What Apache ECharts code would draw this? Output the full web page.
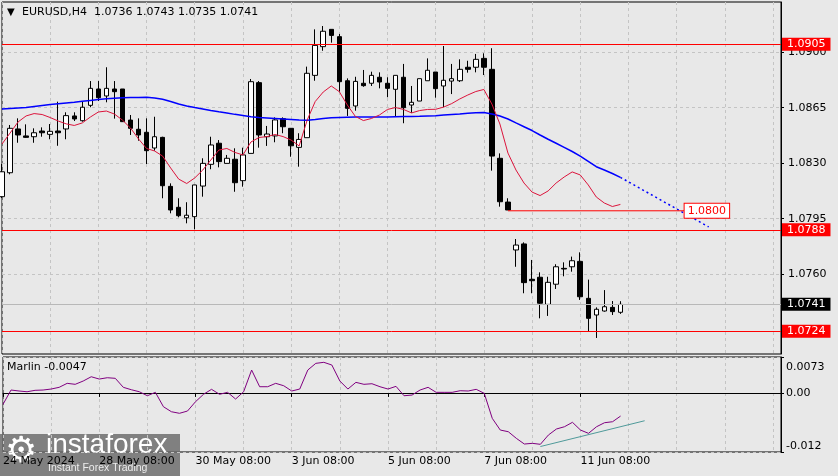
<!DOCTYPE html>
<html><head><meta charset="utf-8">
<script src="https://cdn.jsdelivr.net/npm/echarts@6/dist/echarts.min.js"></script>
<style>html,body{margin:0;padding:0;background:#e8e8e8;}#c{width:838px;height:476px;}</style>
</head><body><div id="c"></div>
<script>
// ---- data ----
const symbol = 'EURUSD,H4';
const tickLabels = ['24 May 2024','28 May 08:00','30 May 08:00','3 Jun 08:00','5 Jun 08:00','7 Jun 08:00','11 Jun 08:00'];
const slotCount = 98; // bar slots shown (incl. empty future space)
const priceTicks = [1.0760, 1.0795, 1.0830, 1.0865, 1.0900];
const marlinTicks = [-0.012, 0, 0.0073];

const open  = [1.08089,1.08240,1.08516,1.08472,1.08467,1.08503,1.08482,1.08503,1.08516,1.08598,1.08568,1.08665,1.08768,1.08724,1.08768,1.08768,1.08572,1.08514,1.08495,1.08396,1.08463,1.08154,1.08022,1.07956,1.07963,1.08156,1.08293,1.08426,1.08299,1.08325,1.08190,1.08362,1.08808,1.08467,1.08472,1.08581,1.08520,1.08400,1.08461,1.08854,1.09035,1.09144,1.09098,1.08820,1.08661,1.08804,1.08804,1.08842,1.08804,1.08766,1.08842,1.08667,1.08692,1.08820,1.08875,1.08787,1.08818,1.08820,1.08905,1.08905,1.08961,1.08892,1.08331,1.08055,1.07753,1.07791,1.07568,1.07581,1.07410,1.07537,1.07637,1.07647,1.07681,1.07448,1.07343,1.07368,1.07391,1.0736];
const high  = [1.08295,1.08541,1.08583,1.08545,1.08520,1.08526,1.08547,1.08688,1.08621,1.08621,1.08688,1.08818,1.08818,1.08905,1.08818,1.08768,1.08604,1.08583,1.08583,1.08593,1.08467,1.08173,1.08079,1.08054,1.08163,1.08331,1.08467,1.08446,1.08352,1.08394,1.08398,1.08831,1.08818,1.08535,1.08589,1.08589,1.08520,1.08489,1.08909,1.09144,1.09165,1.09144,1.09115,1.08835,1.08845,1.08888,1.08877,1.08873,1.08842,1.08854,1.08926,1.08787,1.08833,1.08961,1.08875,1.09039,1.08926,1.08955,1.08946,1.08989,1.08993,1.09025,1.08362,1.08079,1.07822,1.07801,1.07690,1.07612,1.07584,1.07663,1.07675,1.07711,1.07738,1.07566,1.07391,1.07500,1.07431,1.0743];
const low   = [1.08081,1.08230,1.08429,1.08460,1.08429,1.08467,1.08451,1.08410,1.08451,1.08566,1.08562,1.08653,1.08692,1.08684,1.08581,1.08562,1.08478,1.08442,1.08295,1.08379,1.08079,1.07984,1.07959,1.07921,1.07883,1.08089,1.08262,1.08274,1.08299,1.08120,1.08152,1.08362,1.08398,1.08409,1.08432,1.08489,1.08341,1.08278,1.08461,1.08820,1.09009,1.09060,1.08751,1.08598,1.08631,1.08782,1.08787,1.08772,1.08716,1.08593,1.08552,1.08618,1.08692,1.08820,1.08713,1.08653,1.08736,1.08812,1.08871,1.08873,1.08856,1.08253,1.08026,1.08005,1.07647,1.07480,1.07480,1.07322,1.07337,1.07507,1.07587,1.07616,1.07438,1.07242,1.07198,1.07364,1.07343,1.0735];
const close = [1.08246,1.08520,1.08478,1.08463,1.08492,1.08492,1.08501,1.08492,1.08600,1.08579,1.08653,1.08772,1.08713,1.08772,1.08751,1.08562,1.08520,1.08478,1.08379,1.08467,1.08158,1.08005,1.07969,1.07972,1.08163,1.08299,1.08415,1.08310,1.08331,1.08177,1.08352,1.08814,1.08478,1.08484,1.08573,1.08530,1.08410,1.08450,1.08867,1.09043,1.09132,1.09106,1.08814,1.08646,1.08816,1.08789,1.08854,1.08812,1.08772,1.08854,1.08650,1.08684,1.08833,1.08886,1.08770,1.08823,1.08833,1.08892,1.08892,1.08955,1.08905,1.08345,1.08057,1.08005,1.07784,1.07547,1.07559,1.07417,1.07549,1.07647,1.07633,1.07685,1.07458,1.07322,1.07379,1.07395,1.07364,1.0741];

const maFast = [1.08421,1.08490,1.08560,1.08598,1.08613,1.08607,1.08588,1.08566,1.08548,1.08538,1.08554,1.08591,1.08623,1.08629,1.08610,1.08572,1.08522,1.08453,1.08393,1.08377,1.08345,1.08270,1.08200,1.08172,1.08207,1.08257,1.08320,1.08383,1.08393,1.08368,1.08352,1.08434,1.08462,1.08468,1.08481,1.08468,1.08446,1.08409,1.08572,1.08689,1.08749,1.08787,1.08751,1.08667,1.08595,1.08569,1.08582,1.08604,1.08639,1.08651,1.08639,1.08617,1.08632,1.08639,1.08640,1.08654,1.08676,1.08705,1.08730,1.08752,1.08765,1.08673,1.08547,1.08364,1.08257,1.08175,1.08118,1.08096,1.08125,1.08175,1.08213,1.08245,1.08226,1.08163,1.08087,1.08049,1.08027,1.08040];
const maSlow = [1.08642,1.08645,1.08648,1.08651,1.08658,1.08664,1.08670,1.08675,1.08680,1.08684,1.08690,1.08696,1.08702,1.08706,1.08710,1.08713,1.08714,1.08715,1.08716,1.08711,1.08703,1.08689,1.08673,1.08661,1.08651,1.08642,1.08632,1.08624,1.08617,1.08608,1.08601,1.08593,1.08588,1.08585,1.08582,1.08579,1.08576,1.08572,1.08571,1.08576,1.08582,1.08586,1.08589,1.08590,1.08591,1.08591,1.08591,1.08591,1.08591,1.08593,1.08594,1.08595,1.08596,1.08598,1.08600,1.08604,1.08607,1.08610,1.08615,1.08618,1.08620,1.08610,1.08598,1.08579,1.08554,1.08530,1.08506,1.08478,1.08451,1.08426,1.08400,1.08374,1.08345,1.08312,1.08278,1.08257,1.08235,1.08211];
const maSlowProjection = [[77, 1.08211], [88, 1.07898]];

const marlin = [-0.00232,0.00059,0.00039,0.00024,0.00053,0.00059,0.00079,0.00114,0.00195,0.00175,0.00242,0.00329,0.00282,0.00309,0.00297,0.00114,0.00065,0.00024,-0.00057,0.00012,-0.00280,-0.00382,-0.00414,-0.00368,-0.00179,-0.00028,0.00073,-0.00028,0.00012,-0.00124,0.00024,0.00465,0.00126,0.00126,0.00195,0.00146,0.00039,0.00079,0.00465,0.00601,0.00622,0.00567,0.00242,0.00079,0.00215,0.00175,0.00187,0.00126,0.00079,0.00134,-0.00057,-0.00043,0.00059,0.00114,0.00012,0.00012,0.00012,0.00045,0.00039,0.00073,-0.00008,-0.00516,-0.00754,-0.00788,-0.00922,-0.01038,-0.01024,-0.01044,-0.00855,-0.00733,-0.00687,-0.00597,-0.00754,-0.00821,-0.00687,-0.00605,-0.00585,-0.0047];
const marlinTrend = [[67, -0.01089], [80, -0.00565]];

const levelUpper = 1.0905;
const levelMiddle = 1.0788;
const levelLower = 1.0724;
const targetLevel = 1.0800;
const targetFrom = 63, targetTo = 85;

// ---- chart ----
const FONT = 'DejaVu Sans';
const categories = Array.from({length: slotCount}, (_, i) => i);
const candles = open.map((o, i) => [o, close[i], low[i], high[i]]);
const lastClose = close[close.length - 1];
const dashed = {show: true, lineStyle: {color: '#c4c4c4', type: [3, 3], width: 1}};

function tagLine(v, bg, lineColor) {
  return {
    yAxis: v,
    lineStyle: {color: lineColor, width: 1, type: 'solid'},
    label: {show: true, position: 'end', distance: 1, formatter: v.toFixed(4),
      backgroundColor: bg, color: '#fff', padding: [1, 5, 0, 5], lineHeight: 12,
      fontFamily: FONT, fontSize: 11}
  };
}

const chart = echarts.init(document.getElementById('c'), null, {renderer: 'canvas'});
chart.setOption({
  animation: false,
  backgroundColor: '#e8e8e8',
  textStyle: {fontFamily: FONT},
  title: [
    {left: 7, top: 7, padding: 0, text: '{t|▼}' + symbol + '  ' + [open, high, low, close].map(a => a[a.length - 1].toFixed(4)).join(' '),
      textStyle: {fontFamily: FONT, fontSize: 11, fontWeight: 'normal', color: '#000', rich: {t: {fontSize: 10, width: 15, color: '#000'}}}},
    {left: 7, top: 362, padding: 0, text: 'Marlin ' + marlin[marlin.length - 1].toFixed(4),
      textStyle: {fontFamily: FONT, fontSize: 11, fontWeight: 'normal', color: '#000'}}
  ],
  grid: [
    {left: 2, top: 2, width: 779, height: 352, show: true, borderColor: '#000', borderWidth: 1, backgroundColor: 'transparent'},
    {left: 2, top: 357, width: 779, height: 95, show: true, borderColor: '#000', borderWidth: 1, backgroundColor: 'transparent'}
  ],
  xAxis: [
    {type: 'category', gridIndex: 0, data: categories, boundaryGap: false,
      axisLine: {show: false}, axisTick: {show: false}, axisLabel: {show: false},
      splitLine: Object.assign({interval: 5}, dashed)},
    {type: 'category', gridIndex: 1, data: categories, boundaryGap: false,
      axisLine: {show: true, lineStyle: {color: '#000'}},
      axisTick: {show: true, length: 4, interval: (i) => i % 12 === 0 && i / 12 < tickLabels.length, lineStyle: {color: '#000'}},
      axisLabel: {show: true, interval: (i) => i % 12 === 0 && i / 12 < tickLabels.length,
        formatter: (v, i) => tickLabels[i / 12] || '', align: 'left', margin: 4,
        color: '#000', fontSize: 11, fontFamily: FONT},
      splitLine: Object.assign({interval: 5}, dashed)}
  ],
  yAxis: [
    {type: 'value', gridIndex: 0, position: 'right', min: 1.07097, max: 1.093165, scale: true,
      axisLine: {show: true, lineStyle: {color: '#000'}},
      axisTick: {show: true, length: 3, customValues: priceTicks, lineStyle: {color: '#000'}},
      axisLabel: {customValues: priceTicks, formatter: v => v.toFixed(4), margin: 7, color: '#000', fontSize: 11, fontFamily: FONT},
      splitLine: dashed},
    {type: 'value', gridIndex: 1, position: 'right', min: -0.012, max: 0.0073,
      axisLine: {show: true, lineStyle: {color: '#000'}},
      axisTick: {show: true, length: 3, customValues: marlinTicks, lineStyle: {color: '#000'}},
      axisLabel: {customValues: marlinTicks,
        formatter: v => (v === 0 ? '0.00' : (v > 0 ? '{top|' + v + '}' : String(v))), margin: 5,
        color: '#000', fontSize: 11, fontFamily: FONT, verticalAlignMaxLabel: 'top', verticalAlignMinLabel: 'bottom',
        rich: {top: {fontSize: 11, fontFamily: FONT, color: '#000', padding: [5, 0, 0, 0]}}},
      splitLine: dashed}
  ],
  series: [
    {type: 'candlestick', xAxisIndex: 0, yAxisIndex: 0, data: candles, barWidth: 5, clip: true,
      itemStyle: {color: '#ffffff', color0: '#000000', borderColor: '#000000', borderColor0: '#000000', borderWidth: 1},
      markLine: {symbol: 'none', silent: true, animation: false, precision: 6,
        data: [
          tagLine(lastClose, '#000000', '#b8b8b8'),
          tagLine(levelUpper, '#ff0000', '#ff0000'),
          tagLine(levelMiddle, '#ff0000', '#ff0000'),
          tagLine(levelLower, '#ff0000', '#ff0000')
        ]}},
    {type: 'line', xAxisIndex: 0, yAxisIndex: 0, data: maSlow, symbol: 'none', lineStyle: {color: '#0000ff', width: 1.5}},
    {type: 'line', xAxisIndex: 0, yAxisIndex: 0, data: maSlowProjection, symbol: 'none', lineStyle: {color: '#0000ff', width: 1.5, type: [2, 3]}},
    {type: 'line', xAxisIndex: 0, yAxisIndex: 0, data: maFast, symbol: 'none', lineStyle: {color: '#dc143c', width: 1}},
    {type: 'line', xAxisIndex: 0, yAxisIndex: 0, symbol: 'none', lineStyle: {color: '#ff0000', width: 1},
      data: [[targetFrom, targetLevel], [targetTo, targetLevel]],
      endLabel: {show: true, distance: 0, formatter: targetLevel.toFixed(4),
        color: '#ff0000', backgroundColor: '#ffffff', borderColor: '#ff0000', borderWidth: 1,
        padding: [2, 3, 1, 3], fontFamily: FONT, fontSize: 11}},
    {type: 'line', xAxisIndex: 1, yAxisIndex: 1, data: marlin, symbol: 'none', lineStyle: {color: '#800080', width: 1}},
    {type: 'line', xAxisIndex: 1, yAxisIndex: 1, data: marlinTrend, symbol: 'none', lineStyle: {color: '#4f9a9a', width: 1}}
  ],
  graphic: [
    {type: 'group', left: 0, top: 431, z: 100, children: [
      {type: 'rect', shape: {x: 0, y: 0, width: 180, height: 45}, style: {fill: 'rgba(105,105,105,0.82)'}},
      {type: 'text', x: 5, y: 1, style: {text: '⚙', fill: '#ffffff', font: '36px "DejaVu Sans"'}},
      {type: 'text', x: 46, y: -3, style: {text: 'instaforex', fill: '#ffffff', font: '28px "Liberation Sans"'}},
      {type: 'text', x: 48, y: 29, style: {text: 'Instant Forex Trading', fill: 'rgba(255,255,255,0.85)', font: '10.5px "Liberation Sans"'}}
    ]}
  ]
});
</script></body></html>
